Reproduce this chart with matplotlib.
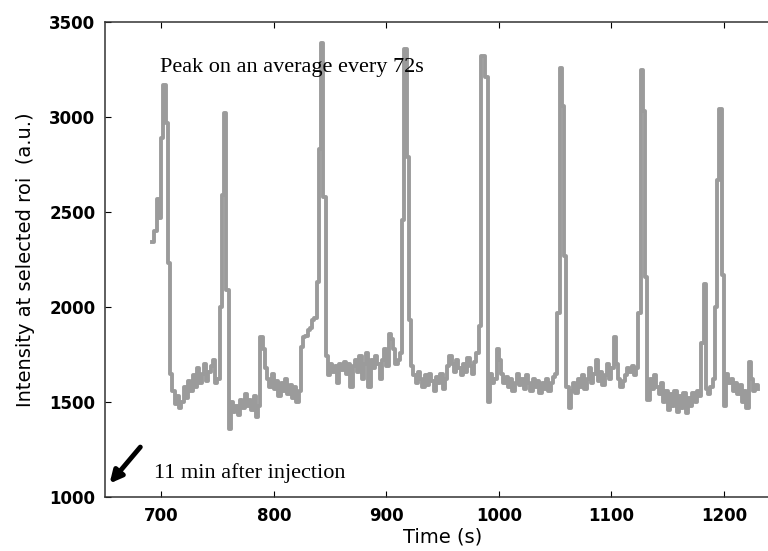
import numpy as np
import matplotlib.pyplot as plt

# sampled every 2 s starting at 692 s
T0 = 692
DT = 2
intensity = [
    2340, 2400, 2570, 2470, 2890, 3170, 2970, 2230, 1650, 1560,
    1490, 1530, 1470, 1500, 1580, 1520, 1610, 1560, 1640, 1580,
    1680, 1600, 1650, 1700, 1610, 1660, 1690, 1720, 1600, 1620,
    2000, 2590, 3020, 2090, 1360, 1500, 1450, 1480, 1430, 1510,
    1470, 1540, 1480, 1510, 1460, 1530, 1420, 1480, 1840, 1780,
    1680, 1620, 1580, 1650, 1570, 1610, 1530, 1600, 1560, 1620,
    1540, 1590, 1520, 1580, 1500, 1560, 1790, 1840, 1850, 1880,
    1890, 1930, 1940, 2130, 2830, 3390, 2580, 1740, 1640, 1700,
    1660, 1690, 1600, 1700, 1670, 1710, 1650, 1700, 1580, 1690,
    1720, 1660, 1740, 1620, 1700, 1760, 1580, 1720, 1680, 1740,
    1700, 1620, 1720, 1780, 1690, 1860, 1830, 1780, 1700, 1720,
    1760, 2460, 3360, 2790, 1930, 1690, 1640, 1600, 1660, 1620,
    1580, 1640, 1590, 1650, 1610, 1560, 1630, 1600, 1650, 1570,
    1620, 1690, 1740, 1700, 1660, 1720, 1680, 1640, 1700, 1660,
    1730, 1690, 1650, 1710, 1760, 1900, 3320, 3320, 3210, 1500,
    1650, 1600, 1620, 1780, 1720, 1650, 1600, 1630, 1580, 1620,
    1560, 1600, 1650, 1590, 1620, 1570, 1640, 1600, 1560, 1620,
    1580, 1610, 1550, 1600, 1570, 1620, 1560, 1600, 1630, 1650,
    1970, 3260, 3060, 2270, 1580, 1470, 1560, 1600, 1550, 1620,
    1580, 1640, 1570, 1620, 1680, 1600, 1650, 1720, 1610, 1660,
    1590, 1640, 1700, 1620, 1680, 1840, 1700, 1620, 1580, 1610,
    1640, 1680, 1660, 1690, 1640, 1680, 1970, 3250, 3030, 2160,
    1510, 1620, 1570, 1640, 1580, 1540, 1600, 1500, 1560, 1460,
    1540, 1480, 1560, 1450, 1530, 1470, 1550, 1440, 1520, 1480,
    1550, 1500, 1560, 1530, 1810, 2120, 1570, 1540, 1580, 1620,
    2000, 2670, 3040, 2170, 1480, 1650, 1600, 1620, 1560, 1600,
    1540, 1590, 1500, 1560, 1470, 1710, 1620, 1560, 1590, 1570,
]
time = T0 + DT * np.arange(len(intensity))

plt.rcParams['font.family'] = ['DejaVu Sans']

fig = plt.figure(figsize=(7.68, 5.51), dpi=100)
ax = fig.add_axes([0.1367, 0.098, 0.879, 0.862])

ax.plot(time, intensity, drawstyle='steps-post', color='#9b9b9b', lw=2.8)

ax.set_xlim(650, 1250)
ax.set_ylim(1000, 3500)
ax.set_xticks([700, 800, 900, 1000, 1100, 1200])
ax.set_yticks([1000, 1500, 2000, 2500, 3000, 3500])
ax.tick_params(direction='in', length=4, top=True, right=True, labelsize=12, pad=7)
for lab in ax.get_xticklabels() + ax.get_yticklabels():
    lab.set_fontweight('bold')
for sp in ax.spines.values():
    sp.set_linewidth(1.1)
    sp.set_color('#333333')

ax.set_xlabel('Time (s)', fontsize=14, labelpad=2)
ax.set_ylabel('Intensity at selected roi  (a.u.)', fontsize=14, labelpad=10)

ax.text(699, 3237, 'Peak on an average every 72s', family='Liberation Serif',
        fontsize=16, va='baseline')
ax.text(694, 1100, '11 min after injection', family='Liberation Serif',
        fontsize=16, va='baseline')
ax.annotate('', xy=(652.5, 1060), xytext=(683, 1274),
            arrowprops=dict(arrowstyle='-|>', color='black', lw=3.5,
                            mutation_scale=18))

plt.savefig('out.png', dpi=100)
